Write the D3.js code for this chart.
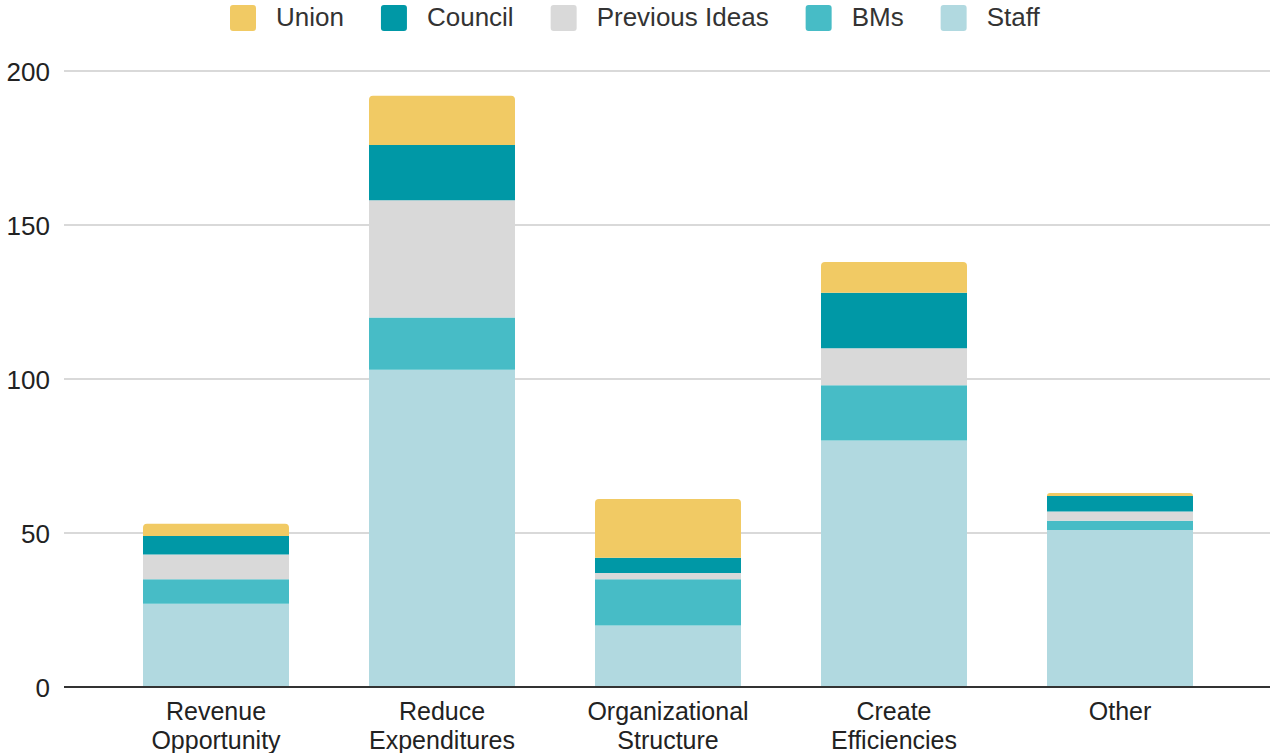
<!DOCTYPE html>
<html><head><meta charset="utf-8">
<script src="https://cdn.jsdelivr.net/npm/d3@7"></script>
<style>body{margin:0;background:#fff;} svg{display:block;font-family:"Liberation Sans",Arial,sans-serif;}</style>
</head><body>
<svg id="chart" width="1272" height="753"></svg>
<script>
const categories = [["Revenue","Opportunity"],["Reduce","Expenditures"],["Organizational","Structure"],["Create","Efficiencies"],["Other"]];
const categoryKeys = ["Revenue Opportunity","Reduce Expenditures","Organizational Structure","Create Efficiencies","Other"];
const seriesNames = ["Staff","BMs","Previous Ideas","Council","Union"];
const staff = [27, 103, 20, 80, 51];
const bms = [8, 17, 15, 18, 3];
const previousIdeas = [8, 38, 2, 12, 3];
const council = [6, 18, 5, 18, 5];
const union = [4, 16, 19, 10, 1];
const yTicks = [0, 50, 100, 150, 200];
const legendOrder = ["Union","Council","Previous Ideas","BMs","Staff"];
const colors = {"Union":"#f1ca64","Council":"#0098a6","Previous Ideas":"#d9d9d9","BMs":"#47bcc6","Staff":"#b1d9e0"};

const seriesValues = {"Staff":staff,"BMs":bms,"Previous Ideas":previousIdeas,"Council":council,"Union":union};
const table = categoryKeys.map((c,i)=>{const o={cat:c}; seriesNames.forEach(s=>o[s]=seriesValues[s][i]); return o;});
const stacked = d3.stack().keys(seriesNames)(table);

const svg = d3.select("#chart");
const x = d3.scaleBand().domain(categoryKeys).range([103,1233]).paddingInner(0.354).paddingOuter(0.177);
const y = d3.scaleLinear().domain([0,200]).range([687,71]);

// gridlines
svg.append("g").selectAll("line").data(yTicks.filter(t=>t>0)).join("line")
  .attr("x1",64).attr("x2",1270).attr("y1",d=>y(d)).attr("y2",d=>y(d))
  .attr("stroke","#cccccc").attr("stroke-width",1.5);

// y axis labels
const yAxis = d3.axisLeft(y).tickValues(yTicks).tickSize(0).tickPadding(0);
const yg = svg.append("g").attr("transform","translate(50,0)").call(yAxis);
yg.select(".domain").remove();
yg.selectAll("text").attr("font-size",26).attr("fill","#222").attr("font-family","'Liberation Sans',Arial,sans-serif").attr("dy","0.35em");

// bars
const topIdx = categoryKeys.map((c,i)=>{let t=-1; stacked.forEach((s,k)=>{if(s[i][1]-s[i][0]>0)t=k;}); return t;});
const r = 4;
stacked.forEach((s,k)=>{
  svg.append("g").selectAll("path").data(s.map((d,i)=>({d,i}))).join("path")
    .attr("fill",colors[s.key])
    .attr("d",({d,i})=>{
      const x0=x(categoryKeys[i]), w=x.bandwidth(), y0=y(d[0]), y1=y(d[1]);
      if(y0-y1<=0) return "";
      if(topIdx[i]===k){
        const rr=Math.min(r,y0-y1);
        return `M${x0},${y0}V${y1+rr}Q${x0},${y1} ${x0+rr},${y1}H${x0+w-rr}Q${x0+w},${y1} ${x0+w},${y1+rr}V${y0}Z`;
      }
      return `M${x0},${y0}V${y1}H${x0+w}V${y0}Z`;
    });
});

// zero axis line
svg.append("line").attr("x1",64).attr("x2",1270).attr("y1",y(0)).attr("y2",y(0)).attr("stroke","#333").attr("stroke-width",2);

// x axis labels
const xAxis = d3.axisBottom(x).tickSize(0).tickFormat(()=> "");
const xg = svg.append("g").attr("transform",`translate(0,${y(0)})`).call(xAxis);
xg.select(".domain").remove();
xg.selectAll(".tick").each(function(d,i){
  const t = d3.select(this).append("text").attr("fill","#222").attr("font-size",25).attr("text-anchor","middle");
  categories[i].forEach((line,j)=>{
    t.append("tspan").attr("x",0).attr("y",24+j*29).attr("dy","0.35em").text(line);
  });
});

// legend
const lg = svg.append("g");
let lx = 230;
legendOrder.forEach(name=>{
  lg.append("rect").attr("x",lx).attr("y",5).attr("width",26).attr("height",26).attr("rx",3).attr("fill",colors[name]);
  const t = lg.append("text").attr("x",lx+46).attr("y",17).attr("dy","0.35em").attr("font-size",26).attr("fill","#333").text(name);
  lx = lx + 46 + t.node().getComputedTextLength() + 37;
});
</script>
</body></html>
